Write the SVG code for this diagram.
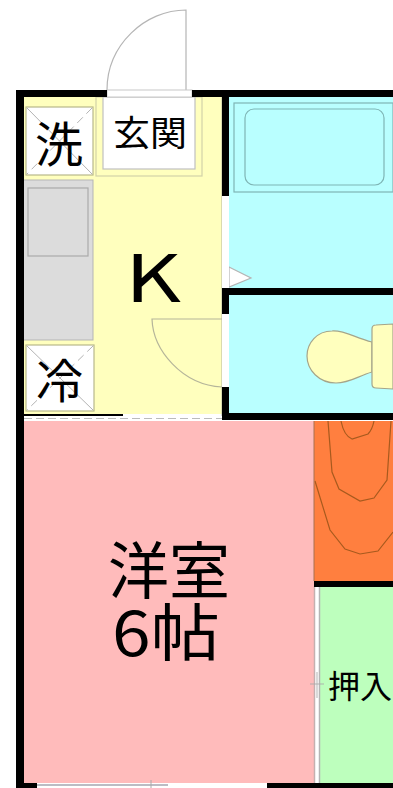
<svg xmlns="http://www.w3.org/2000/svg" width="393" height="788" viewBox="0 0 393 788">
<style>
.t{font-family:"Noto Sans CJK JP","Noto Sans",sans-serif;fill:#000}
.w{fill:#000}
.g{fill:none;stroke:#b5b5b5;stroke-width:1.2}
.o{fill:none;stroke:#a85a1e;stroke-width:1.2}
.c{fill:none;stroke:#7fb5b5;stroke-width:1.2}
.s{fill:#fff;stroke:#b8b88a;stroke-width:1.2}
.x{stroke:#aaa;stroke-width:.9;fill:none}
</style>
<rect width="393" height="788" fill="#fff"/>
<g id="kitchen">
<rect x="23" y="97" width="199" height="317" fill="#ffffbe"/>
<rect x="23" y="180" width="70" height="160" fill="#dcdcdc" stroke="#b5b5b5"/>
<rect x="28" y="188" width="60" height="68" fill="#dcdcdc" stroke="#aaa" stroke-width="1.2"/>
<line x1="222" y1="97" x2="222" y2="418" stroke="#b5b5a0"/>
<path class="g" d="M222 319H152C153 350 182 385 222 387" style="stroke:#b5b59a"/>
<text class="t" x="125" y="302" font-size="66" textLength="56" lengthAdjust="spacingAndGlyphs">K</text>
</g>
<g id="entrance">
<rect x="96" y="97" width="106" height="79" fill="#fff" fill-opacity="0" stroke="#d2d2a8" stroke-width="1.2"/>
<rect x="103" y="97" width="92" height="72" fill="#fff" stroke="#c0c0c0" stroke-width="1.2"/>
<path class="g" d="M107 90C107 45 145 10 186 10V90"/>
<rect x="107" y="90" width="85" height="7" fill="#fff" stroke="#c8c8c8"/>
<text class="t" x="113" y="146" font-size="35" textLength="74" lengthAdjust="spacingAndGlyphs">玄関</text>
</g>
<g id="washer">
<rect x="26" y="107" width="67" height="68" class="s"/>
<path class="x" d="M27 108L92 174"/>
<path class="x" stroke-dasharray="8 5" d="M92 108L27 174"/>
<text class="t" x="35" y="162" font-size="48">洗</text>
</g>
<g id="fridge">
<rect x="26" y="345" width="68" height="66" class="s"/>
<path class="x" d="M27 346L93 410"/>
<path class="x" stroke-dasharray="8 5" d="M93 346L27 410"/>
<text class="t" x="36" y="398" font-size="47">冷</text>
</g>
<g id="bath">
<rect x="229" y="97" width="164" height="192" fill="#b9ffff"/>
<rect x="234" y="103" width="159" height="89" class="c"/>
<rect x="245" y="109" width="139" height="76" rx="9" class="c"/>
<path d="M229 267L251 278L229 287Z" fill="#fff" stroke="#b5b5b5" stroke-width="1.2"/>
</g>
<g id="toilet">
<rect x="229" y="295" width="164" height="118" fill="#b9ffff"/>
<path d="M372 342C355 338 345 330 332 331C317 331 307 343 307 356C307 370 319 383 336 383C350 383 358 376 372 372Z" fill="#ffffbe" stroke="#a5a58a" stroke-width="1.2"/>
<path d="M393 324L376 325Q372 325 372 329V384Q372 388 376 388L393 389Z" fill="#ffffbe" stroke="#a5a58a" stroke-width="1.2"/>
</g>
<g id="room">
<rect x="23" y="421" width="291" height="362" fill="#ffbbbb"/>
<text class="t" font-size="62"><tspan x="108" y="594" textLength="122" lengthAdjust="spacingAndGlyphs">洋室</tspan><tspan x="112" y="656" textLength="108" lengthAdjust="spacingAndGlyphs">6帖</tspan></text>
</g>
<g id="closet">
<rect x="314" y="421" width="79" height="160" fill="#ff7f3f"/>
<path class="o" d="M341 421C343 431 347 437 352 439L368 434C371 431 373 426 374 421"/>
<path class="o" d="M328 421L332 472L339 489L360 501L374 498L387 480L391 421"/>
<path class="o" d="M315 481L330 530L345 549L360 554L378 551L393 532"/>
<line x1="314" y1="421" x2="314" y2="581" stroke="#a87050"/>
</g>
<g id="storage">
<rect x="320" y="586" width="73" height="197" fill="#bdffbd"/>
<rect x="314" y="586" width="6" height="197" fill="#fff"/>
<line x1="314.500" y1="586" x2="314.500" y2="783" stroke="#c4b0b0" stroke-width="1.500"/>
<line x1="319.500" y1="586" x2="319.500" y2="783" stroke="#b5b5b5" stroke-width="1.500"/>
<path class="x" d="M310 684H324M317 672V698"/>
<text class="t" x="328" y="698" font-size="32" textLength="64" lengthAdjust="spacingAndGlyphs">押入</text>
</g>
<g id="walls">
<rect class="w" x="16" y="90" width="8" height="698"/>
<rect class="w" x="16" y="90" width="91" height="7"/>
<rect class="w" x="192" y="90" width="201" height="7"/>
<rect class="w" x="222" y="90" width="7" height="106"/>
<rect x="222" y="196" width="7" height="92" fill="#fff"/>
<rect class="w" x="222" y="288" width="171" height="7"/>
<rect class="w" x="222" y="288" width="7" height="26"/>
<rect x="222" y="314" width="7" height="73" fill="#fff"/>
<rect class="w" x="222" y="387" width="7" height="33"/>
<rect class="w" x="222" y="413" width="171" height="7"/>
<rect class="w" x="314" y="581" width="79" height="6"/>
<rect class="w" x="24" y="414" width="99" height="2"/>
<rect x="24" y="416" width="198" height="5" fill="#fff"/>
<line x1="24" y1="418.500" x2="222" y2="418.500" stroke="#bbb" stroke-dasharray="8 4"/>
<rect class="w" x="16" y="783" width="21" height="5"/>
<rect class="w" x="267" y="783" width="126" height="5"/>
<line x1="37" y1="785" x2="168" y2="785" stroke="#bcbcc4" stroke-width="2"/>
<line x1="151" y1="780" x2="151" y2="788" stroke="#aaa"/>
</g>
</svg>
